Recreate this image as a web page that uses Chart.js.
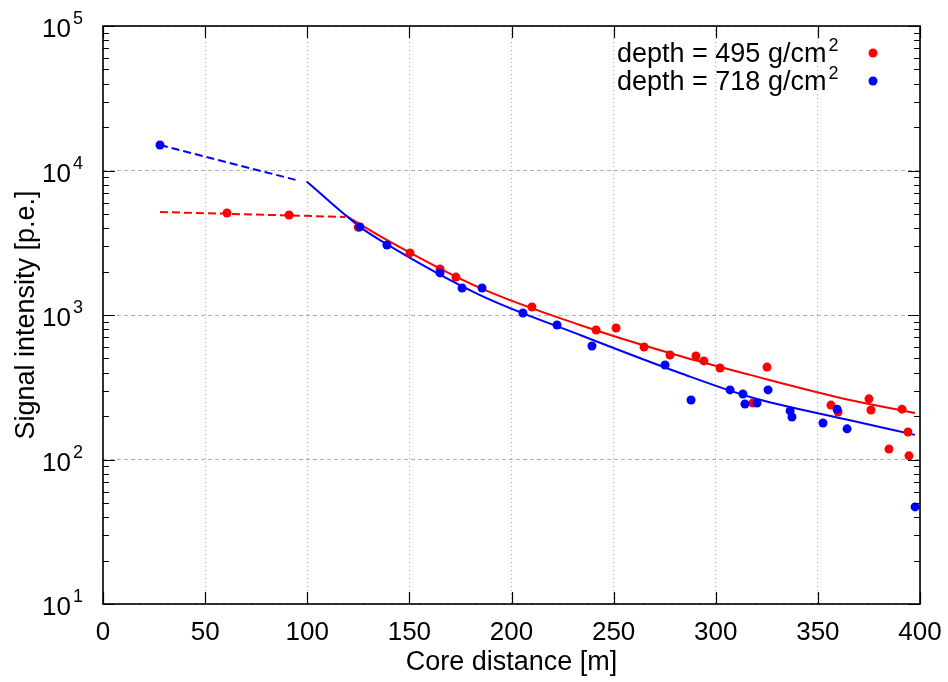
<!DOCTYPE html>
<html>
<head>
<meta charset="utf-8">
<script src="https://cdn.jsdelivr.net/npm/chart.js@4.4.1/dist/chart.umd.min.js"></script>
<style>
  html, body { margin: 0; padding: 0; background: #fff; }
</style>
</head>
<body>
<canvas id="chart" width="948" height="682"></canvas>
<script>
// measured points, depth = 495 g/cm2
const redX = [60.7, 91.1, 125, 150.3, 165, 172.8, 210, 241.4, 251.2, 264.9, 277.6, 290.3, 294.2, 302.1, 318.2, 325.1, 356.4, 359.9, 375, 376, 384.8, 391.2, 394.1, 394.6];
const redY = [5080, 4920, 4050, 2690, 2080, 1830, 1135, 787, 813, 601, 529, 520, 481, 430, 246, 436, 238, 213, 263, 220, 118, 223, 155, 106];
// measured points, depth = 718 g/cm2
const blueX = [27.9, 125.8, 139, 165, 175.8, 185.6, 205.6, 222.3, 239.4, 275.2, 287.9, 307, 313.3, 314.3, 320.2, 325.6, 336.4, 337.3, 352.5, 359.4, 364.3, 397.6];
const blueY = [15000, 4070, 3050, 1955, 1538, 1538, 1033, 853, 610, 451, 258, 303, 284, 242, 246, 303, 217, 197, 179, 223, 163, 47];

// fitted curves
const redFitX = [118.5, 135.6, 184.6, 233.5, 282.5, 316.8, 365.7, 397.5];
const redFitY = [4920, 3520, 1540, 853, 520, 385, 258, 210];
const redExtX = [27.9, 118.5];
const redExtY = [5160, 4770];
const blueFitX = [99.7, 125.8, 135.6, 184.6, 233.5, 282.5, 316.8, 365.7, 397.5];
const blueFitY = [8380, 4070, 3300, 1374, 728, 397, 271, 187, 148];
const blueExtX = [27.9, 96];
const blueExtY = [15000, 8490];

const xTicks = [0, 50, 100, 150, 200, 250, 300, 350, 400];
const yTicks = [10, 100, 1000, 10000, 100000];
const legendLabels = ['depth = 495 g/cm', 'depth = 718 g/cm'];

const RED = '#ff0000';
const BLUE = '#0000ff';
const FONT = 'Liberation Sans, Arial, sans-serif';

const pts = (xs, ys) => xs.map((x, i) => ({ x: x, y: ys[i] }));

const frame = {
  id: 'frame',
  afterDraw(chart) {
    const { ctx, chartArea: a, scales: { x, y } } = chart;
    ctx.save();
    ctx.strokeStyle = '#000';
    ctx.lineWidth = 1.2;
    ctx.beginPath();
    xTicks.forEach(v => {
      const px = Math.round(x.getPixelForValue(v)) + 0.5;
      ctx.moveTo(px, a.bottom); ctx.lineTo(px, a.bottom - 12);
      ctx.moveTo(px, a.top); ctx.lineTo(px, a.top + 12);
    });
    yTicks.forEach((v, i) => {
      const py = Math.round(y.getPixelForValue(v)) + 0.5;
      ctx.moveTo(a.left, py); ctx.lineTo(a.left + 12, py);
      ctx.moveTo(a.right, py); ctx.lineTo(a.right - 12, py);
      if (i < yTicks.length - 1) {
        for (let k = 2; k <= 9; k++) {
          const pm = Math.round(y.getPixelForValue(v * k)) + 0.5;
          ctx.moveTo(a.left, pm); ctx.lineTo(a.left + 6, pm);
          ctx.moveTo(a.right, pm); ctx.lineTo(a.right - 6, pm);
        }
      }
    });
    ctx.stroke();
    ctx.lineWidth = 1.6;
    ctx.strokeRect(a.left, a.top, a.right - a.left, a.bottom - a.top);

    // y tick labels as 10^n
    ctx.fillStyle = '#000';
    ctx.textBaseline = 'alphabetic';
    yTicks.forEach(v => {
      const py = y.getPixelForValue(v);
      ctx.font = '26px ' + FONT;
      ctx.textAlign = 'right';
      ctx.fillText('10', 71, py + 11);
      ctx.font = '18px ' + FONT;
      ctx.textAlign = 'left';
      ctx.fillText(String(Math.round(Math.log10(v))), 73, py - 2);
    });

    // legend: text then marker on the right
    const colors = [RED, BLUE];
    legendLabels.forEach((label, i) => {
      const base = 62 + i * 28;
      ctx.font = '27px ' + FONT;
      ctx.textAlign = 'left';
      ctx.fillText(label, 617, base);
      const w = ctx.measureText(label).width;
      ctx.font = '18px ' + FONT;
      ctx.fillText('2', 617 + w + 2, base - 11);
      ctx.beginPath();
      ctx.fillStyle = colors[i];
      ctx.arc(873, base - 9, 4.5, 0, Math.PI * 2);
      ctx.fill();
      ctx.fillStyle = '#000';
    });
    ctx.restore();
  }
};

new Chart(document.getElementById('chart'), {
  type: 'scatter',
  data: {
    datasets: [
      { data: pts(redX, redY), backgroundColor: RED, borderWidth: 0, pointRadius: 4.5, order: 1 },
      { data: pts(blueX, blueY), backgroundColor: BLUE, borderWidth: 0, pointRadius: 4.5, order: 0 },
      { type: 'line', data: pts(redFitX, redFitY), borderColor: RED, borderWidth: 2, pointRadius: 0, cubicInterpolationMode: 'monotone', order: 3 },
      { type: 'line', data: pts(redExtX, redExtY), borderColor: RED, borderWidth: 2, borderDash: [8, 4], pointRadius: 0, order: 3 },
      { type: 'line', data: pts(blueFitX, blueFitY), borderColor: BLUE, borderWidth: 2, pointRadius: 0, cubicInterpolationMode: 'monotone', order: 2 },
      { type: 'line', data: pts(blueExtX, blueExtY), borderColor: BLUE, borderWidth: 2, borderDash: [8, 4], pointRadius: 0, order: 2 }
    ]
  },
  options: {
    responsive: false,
    devicePixelRatio: 1,
    animation: false,
    layout: { padding: { top: 26, right: 28, left: 0, bottom: 0 } },
    plugins: { legend: { display: false }, tooltip: { enabled: false } },
    scales: {
      x: {
        type: 'linear', min: 0, max: 400,
        afterBuildTicks: s => { s.ticks = xTicks.map(v => ({ value: v })); },
        afterFit: s => { s.height = 78; s.paddingLeft = 0; s.paddingRight = 0; },
        grid: { color: '#b0b0b0', lineWidth: 1, drawTicks: false },
        border: { display: false, dash: [1, 3] },
        ticks: { color: '#000', font: { family: FONT, size: 26 }, padding: 13, maxRotation: 0 },
        title: { display: true, text: 'Core distance [m]', color: '#000', font: { family: FONT, size: 27 }, padding: { top: 0, bottom: 3 } }
      },
      y: {
        type: 'logarithmic', min: 10, max: 100000,
        afterBuildTicks: s => { s.ticks = yTicks.map(v => ({ value: v })); },
        afterFit: s => { s.width = 103; s.paddingTop = 0; s.paddingBottom = 0; },
        grid: { color: '#b0b0b0', lineWidth: 1, drawTicks: false },
        border: { display: false, dash: [4, 3] },
        ticks: { display: false },
        title: { display: true, text: 'Signal intensity [p.e.]', color: '#000', font: { family: FONT, size: 27 }, padding: { top: 10, bottom: 0 } }
      }
    }
  },
  plugins: [frame]
});
</script>
</body>
</html>
